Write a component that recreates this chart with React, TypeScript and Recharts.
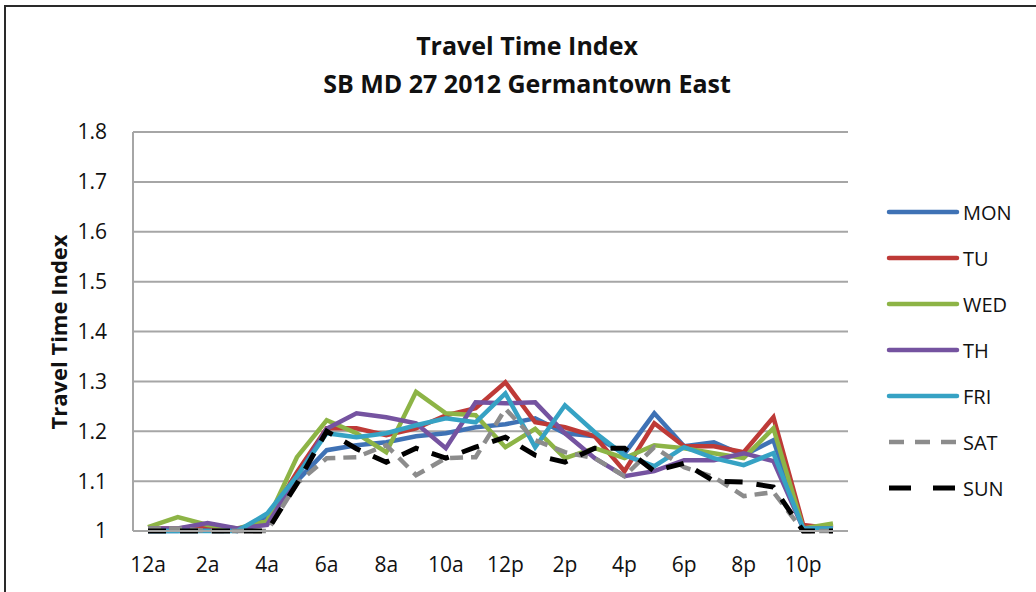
import React from "react";
import { LineChart, Line, XAxis, YAxis, CartesianGrid } from "recharts";

const hours = ["12a","1a","2a","3a","4a","5a","6a","7a","8a","9a","10a","11a","12p","1p","2p","3p","4p","5p","6p","7p","8p","9p","10p","11p"];
const mon = [1.0,1.0,1.005,1.0,1.03,1.1,1.162,1.172,1.178,1.19,1.196,1.208,1.214,1.226,1.196,1.19,1.155,1.236,1.17,1.178,1.152,1.182,1.005,1.005];
const tu = [1.005,1.005,1.01,1.0,1.02,1.118,1.206,1.206,1.192,1.206,1.232,1.246,1.298,1.218,1.208,1.19,1.12,1.216,1.17,1.17,1.158,1.228,1.012,1.005];
const wed = [1.008,1.028,1.012,1.005,1.02,1.148,1.222,1.196,1.158,1.279,1.236,1.232,1.168,1.205,1.146,1.166,1.146,1.172,1.166,1.156,1.146,1.206,1.005,1.015];
const th = [1.005,1.005,1.016,1.005,1.012,1.108,1.205,1.236,1.228,1.216,1.166,1.258,1.256,1.258,1.196,1.146,1.11,1.12,1.142,1.142,1.156,1.14,1.005,1.005];
const fri = [1.0,1.0,1.0,1.0,1.035,1.11,1.196,1.188,1.196,1.212,1.226,1.218,1.276,1.168,1.252,1.198,1.152,1.13,1.168,1.146,1.132,1.156,1.005,1.005];
const sat = [1.005,1.005,1.0,1.0,1.0,1.095,1.146,1.148,1.172,1.112,1.146,1.148,1.245,1.182,1.158,1.146,1.11,1.168,1.128,1.108,1.07,1.078,1.0,1.0];
const sun = [1.0,1.0,1.0,1.0,1.0,1.095,1.2,1.165,1.138,1.166,1.146,1.168,1.188,1.152,1.138,1.166,1.166,1.12,1.136,1.1,1.098,1.088,1.0,1.0];
const yTicks = [1, 1.1, 1.2, 1.3, 1.4, 1.5, 1.6, 1.7, 1.8];

const seriesList = [
  { key: "MON", values: mon, color: "#3F72B5", dash: undefined as string | undefined, width: 4.5 },
  { key: "TU", values: tu, color: "#BE3A37", dash: undefined, width: 4.5 },
  { key: "WED", values: wed, color: "#8DB446", dash: undefined, width: 4.5 },
  { key: "TH", values: th, color: "#7553A0", dash: undefined, width: 4.5 },
  { key: "FRI", values: fri, color: "#36A2C4", dash: undefined, width: 4.5 },
  { key: "SAT", values: sat, color: "#8C8C8C", dash: "13 8", width: 4.5 },
  { key: "SUN", values: sun, color: "#000000", dash: "18 14", width: 5 },
];

const data = hours.map((h, i) => {
  const row: Record<string, number | string> = { hour: h };
  seriesList.forEach((s) => { row[s.key] = s.values[i]; });
  return row;
});

const FONT = "'Open Sans', sans-serif";

export default function App() {
  return (
    <div style={{ position: "absolute", left: 0, top: 0, width: 1036, height: 592, background: "#fff", overflow: "hidden", fontFamily: FONT }}>
      <div style={{ position: "absolute", left: 4, top: 5, width: 1100, height: 700, border: "2px solid #2a2a2a", boxSizing: "border-box" }} />
      <div style={{ position: "absolute", left: 0, top: 26, width: 1054, textAlign: "center", fontWeight: 700, fontSize: 25, lineHeight: "38px", color: "#111" }}>
        <div>Travel Time Index</div>
        <div>SB MD 27 2012 Germantown East</div>
      </div>
      <div style={{ position: "absolute", left: 0, top: 0 }}>
        <LineChart width={1036} height={592} data={data} margin={{ top: 132, right: 188, bottom: 31, left: 73 }}>
          <CartesianGrid vertical={false} stroke="#A6A6A6" strokeWidth={2} />
          <XAxis dataKey="hour" interval={1} padding={{ left: 15, right: 15 }} tickLine={false} axisLine={{ stroke: "#A6A6A6", strokeWidth: 2 }} tickSize={0} tickMargin={26} height={30}
            tick={{ fill: "#111", fontSize: 21, fontFamily: FONT }} />
          <YAxis domain={[1, 1.8]} ticks={yTicks} width={60} tickLine={false} axisLine={{ stroke: "#A6A6A6", strokeWidth: 2 }} tickSize={0} tickMargin={26}
            tickFormatter={(v: number) => String(Math.round(v * 10) / 10)}
            tick={{ fill: "#111", fontSize: 21, fontFamily: FONT }} />
          {seriesList.map((s) => (
            <Line key={s.key} dataKey={s.key} stroke={s.color} strokeWidth={s.width} strokeDasharray={s.dash} dot={false} isAnimationActive={false} type="linear" />
          ))}
        </LineChart>
      </div>
      <div style={{ position: "absolute", top: 332, left: 58, transform: "translate(-50%, -50%) rotate(-90deg)", fontWeight: 700, fontSize: 22, whiteSpace: "nowrap", color: "#111" }}>
        Travel Time Index
      </div>
      <svg style={{ position: "absolute", left: 0, top: 0 }} width={1036} height={592}>
        {seriesList.map((s, i) => {
          const y = 212 + i * 46;
          return (
            <g key={s.key}>
              <line x1={889} x2={957} y1={y} y2={y} stroke={s.color} strokeWidth={s.width} strokeDasharray={s.key === "SAT" ? "15 11" : s.key === "SUN" ? "22 22" : undefined} strokeLinecap={s.dash ? "butt" : "round"} />
              <text x={963} y={y} dominantBaseline="central" fontSize={20} fontFamily={FONT} fill="#111">{s.key}</text>
            </g>
          );
        })}
      </svg>
    </div>
  );
}
